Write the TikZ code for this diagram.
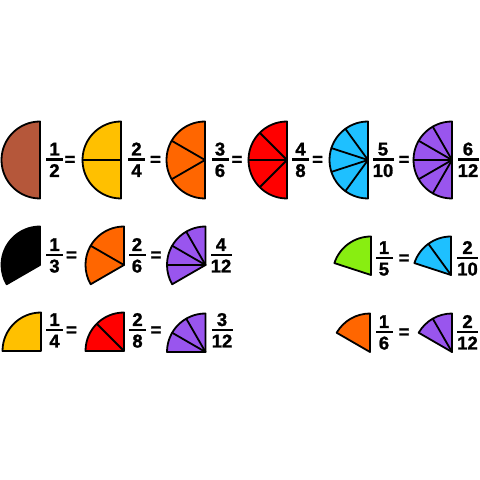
\documentclass[tikz,border=0pt]{standalone}
\usepackage{fontspec}
\setmainfont{Liberation Sans}
\newfontfamily\heavy{Liberation Sans Bold}[FakeBold=1.3]
\definecolor{cbrown}{HTML}{B5573A}
\definecolor{cyellow}{HTML}{FFC000}
\definecolor{corange}{HTML}{FF6600}
\definecolor{cred}{HTML}{FF0000}
\definecolor{cblue}{HTML}{1EC0FF}
\definecolor{cpurple}{HTML}{9955EE}
\definecolor{cgreen}{HTML}{88EE11}
\tikzset{
  pie/.style={draw=black, line width=1.8pt, line join=round, line cap=round},
  dig/.style={font=\fontsize{18.5}{18.5}\selectfont\heavy, inner sep=0pt, anchor=base},
  fbar/.style={fill=black, inner sep=0pt, minimum height=2.4pt},
  eqs/.style={font=\fontsize{18.5}{18.5}\selectfont\heavy, inner sep=0pt, anchor=base},
}
\newcommand\sect[6]{% name,x,y,total angle,pieces,colour
  \coordinate (#1) at (#2,#3);
  \fill[fill=#6] (#1) -- ++(90:38.5) arc[start angle=90,delta angle=#4,radius=38.5] -- cycle;
  \pgfmathtruncatemacro\np{#5-1}
  \ifnum\np>0 \foreach \k in {1,...,\np}{\draw[pie] (#1) -- ++({90+#4*\k/#5}:38.5);}\fi
  \draw[pie] (#1) -- ++(90:38.5) arc[start angle=90,delta angle=#4,radius=38.5] -- cycle;
}
\newcommand\frc[6]{% name,x,Y,num,den,barwidth
  \node[dig] (#1n) at (#2,#3+4) {#4};
  \node[fbar, minimum width=#6pt] (#1b) at (#2,#3) {};
  \node[dig] (#1d) at (#2,#3-17.5) {#5};
}
\newcommand\eqn[3]{\node[eqs] (#1) at (#2,#3-6) {=};}
\begin{document}
\begin{tikzpicture}[x=1pt,y=1pt]
\useasboundingbox (0,0) rectangle (480,480);
\fill[white] (0,0) rectangle (480,480);
% Row 1: halves
\sect{s1}{40}{320}{180}{1}{cbrown}
\sect{s2}{121}{320}{180}{2}{cyellow}
\sect{s3}{205}{320}{180}{3}{corange}
\sect{s4}{287}{320}{180}{4}{cred}
\sect{s5}{368}{320}{180}{5}{cblue}
\sect{s6}{452}{320}{180}{6}{cpurple}
\frc{f1}{54.5}{320.5}{1}{2}{17}
\eqn{e1}{70}{320.5}
\frc{f2}{136.5}{320.5}{2}{4}{17}
\eqn{e2}{155.5}{320.5}
\frc{f3}{220}{320.5}{3}{6}{17}
\eqn{e3}{237}{320.5}
\frc{f4}{300.5}{320.5}{4}{8}{17}
\eqn{e4}{317.5}{320.5}
\frc{f5}{383}{320.5}{5}{10}{21}
\eqn{e5}{404}{320.5}
\frc{f6}{468}{320.5}{6}{12}{21}
% Row 2 left: thirds
\sect{t1}{40}{215}{120}{1}{black}
\sect{t2}{124}{215}{120}{2}{corange}
\sect{t3}{205.5}{215}{120}{4}{cpurple}
\frc{g1}{54.5}{225}{1}{3}{17}
\eqn{e6}{71.5}{225}
\frc{g2}{137}{225}{2}{6}{17}
\eqn{e7}{156}{225}
\frc{g3}{221}{225}{4}{12}{21}
% Row 2 right: fifths
\sect{u1}{371}{205}{72}{1}{cgreen}
\sect{u2}{451}{205}{72}{2}{cblue}
\frc{h1}{384}{222}{1}{5}{17}
\eqn{e8}{404}{222}
\frc{h2}{467.5}{222}{2}{10}{21}
% Row 3 left: quarters
\sect{v1}{41}{129}{90}{1}{cyellow}
\sect{v2}{124}{129}{90}{2}{cred}
\sect{v3}{205.5}{128}{90}{3}{cpurple}
\frc{k1}{54.5}{150}{1}{4}{17}
\eqn{e9}{71.5}{150}
\frc{k2}{137.5}{150}{2}{8}{17}
\eqn{e10}{156}{150}
\frc{k3}{222}{150}{3}{12}{21}
% Row 3 right: sixths
\sect{w1}{370}{128}{60}{1}{corange}
\sect{w2}{452}{128}{60}{2}{cpurple}
\frc{m1}{384}{148}{1}{6}{17}
\eqn{e11}{404}{148}
\frc{m2}{467.5}{148}{2}{12}{21}
\end{tikzpicture}
\end{document}
